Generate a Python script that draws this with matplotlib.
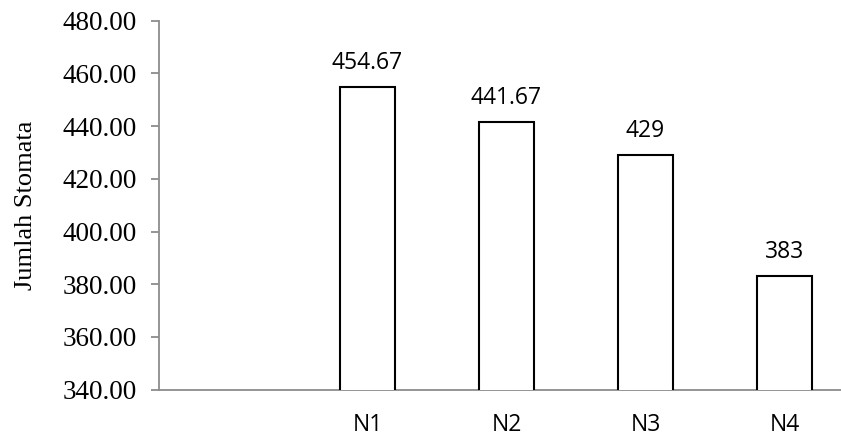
import matplotlib.pyplot as plt
import numpy as np

# data
categories = ["", "N1", "N2", "N3", "N4"]
values = [np.nan, 454.67, 441.67, 429, 383]
value_labels = ["", "454.67", "441.67", "429", "383"]
y_ticks = [340, 360, 380, 400, 420, 440, 460, 480]

W, H = 841, 437
fig = plt.figure(figsize=(W / 100, H / 100), dpi=100)

# axes runs a bit past the right edge of the figure
left, right = 159, 854
top, bottom = 20.7, 389.7
ax = fig.add_axes([left / W, (H - bottom) / H, (right - left) / W, (bottom - top) / H])

x = np.arange(len(categories))
bars = ax.bar(x, values, width=0.4, color="white", edgecolor="black", linewidth=1.5, zorder=3)

for xi, v, lab in zip(x, values, value_labels):
    if lab:
        ax.annotate(lab, (xi, v), xytext=(0, 13), textcoords="offset points",
                    ha="center", va="baseline", fontsize=16.5, family="Open Sans")

ax.set_xlim(-0.5, len(categories) - 0.5)
ax.set_ylim(340, 480)
ax.set_yticks(y_ticks)
ax.set_yticklabels(["%.2f" % t for t in y_ticks], family="Liberation Serif", fontsize=19.5)
ax.set_xticks(x)
ax.set_xticklabels(categories, family="Open Sans", fontsize=16.5)

for side in ("top", "right"):
    ax.spines[side].set_visible(False)
for side in ("left", "bottom"):
    ax.spines[side].set_color("#8c8c8c")
    ax.spines[side].set_linewidth(1.3)

ax.tick_params(axis="y", length=6, width=1.3, color="#8c8c8c", pad=10)
ax.tick_params(axis="x", length=0, pad=17)

ax.set_ylabel("Jumlah Stomata", family="Liberation Serif", fontsize=19, labelpad=18)

fig.savefig("out.png", dpi=100)
